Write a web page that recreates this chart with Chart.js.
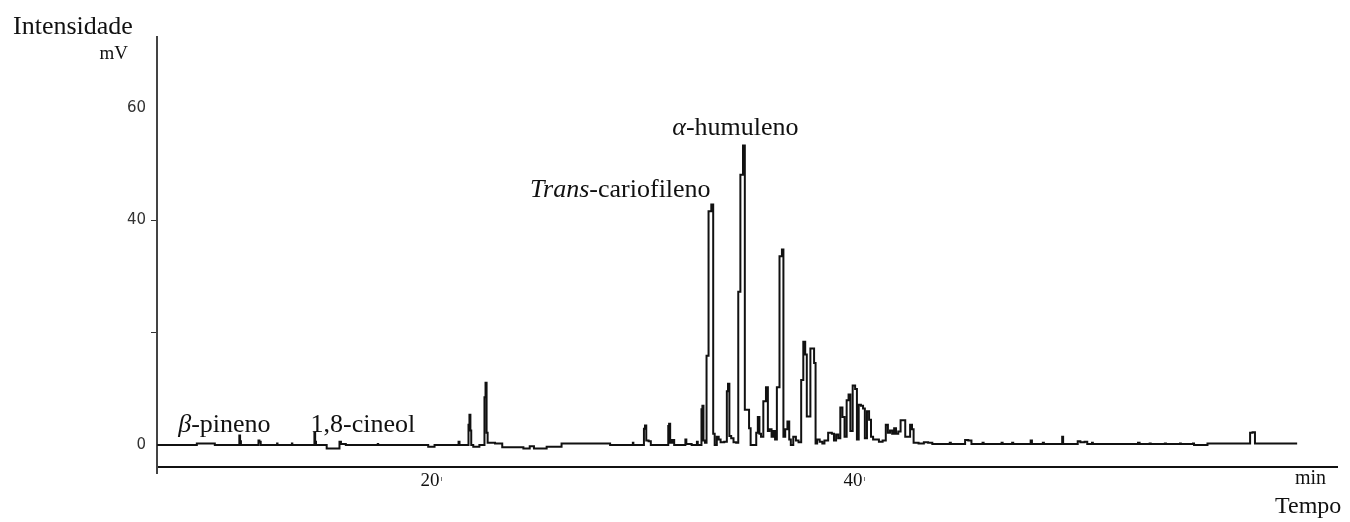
<!DOCTYPE html>
<html>
<head>
<meta charset="utf-8">
<title>Cromatograma</title>
<script src="https://cdn.jsdelivr.net/npm/chart.js@4.4.0/dist/chart.umd.min.js"></script>
<style>
  html, body { margin: 0; padding: 0; background: #fff; }
  #chart-wrap { width: 1350px; height: 522px; position: relative; }
</style>
</head>
<body>
<div id="chart-wrap">
  <canvas id="chromatogram" width="1350" height="522"></canvas>
</div>
<script>
  // Retention time (min) and detector signal (mV) in three stretches
  const timeEarly = [
    7.1, 8.95, 9.0, 9.8, 9.85, 10.97, 11.0, 11.04, 11.08, 11.88,
    11.9, 11.97, 12.02, 12.76, 12.78, 12.8, 13.46, 13.48, 13.5, 14.52,
    14.55, 14.59, 14.63, 15.1, 15.13, 15.7, 15.74, 15.84, 16.0, 16.04,
    17.52, 17.54, 17.56, 19.9, 19.93, 20.2, 20.23, 21.33, 21.37, 21.42,
    21.8, 21.84, 21.89, 21.93, 21.97, 22.12, 22.55, 22.6, 22.65, 22.7,
    22.75, 23.4, 23.43, 24.4, 24.43, 24.7, 24.73, 24.9, 24.93, 25.5,
    25.53, 26.2, 26.24, 28.5, 28.53, 29.58, 29.6, 29.63
  ];
  const signalEarly = [
    0, 0, 0.3, 0.3, 0, 0, 1.7, 0.7, 0, 0,
    0.8, 0.6, 0, 0, 0.3, 0, 0, 0.3, 0, 0,
    2.2, 0.6, 0, 0, -0.6, -0.6, 0.6, 0.2, 0.2, 0,
    0, 0.2, 0, 0, -0.3, -0.3, 0, 0, 0.6, 0,
    0, 3.6, 5.4, 2.6, 0, -0.3, 0, 8.5, 11.1, 2.2,
    0.4, 0.3, -0.4, -0.4, -0.6, -0.6, -0.2, -0.2, -0.6, -0.6,
    -0.3, -0.3, 0.3, 0.3, 0, 0, 0.4, 0
  ];

  const timeSesqui = [
    30.1, 30.13, 30.2, 30.25, 30.42, 30.46, 31.25, 31.28, 31.33, 31.38,
    31.52, 31.57, 32.05, 32.1, 32.14, 32.6, 32.64, 32.68, 32.82, 32.85,
    32.91, 32.95, 33.05, 33.1, 33.24, 33.36, 33.42, 33.5, 33.62, 33.68,
    33.8, 34.02, 34.05, 34.13, 34.18, 34.3, 34.4, 34.55, 34.6, 34.75,
    34.85, 34.92, 35.05, 35.12, 35.2, 35.4, 35.45, 35.55, 35.6, 35.7,
    35.82, 35.95, 36.0, 36.1, 36.2, 36.28, 36.35, 36.45, 36.6, 36.68,
    36.74, 36.85, 36.95, 37.02, 37.1, 37.25, 37.35, 37.5, 37.6, 37.7,
    37.78, 37.85, 37.95, 38.02, 38.12, 38.2, 38.26, 38.35, 38.5, 38.6,
    38.7, 38.95, 39.05, 39.15, 39.25, 39.35, 39.45, 39.55, 39.65, 39.75,
    39.83, 39.92, 40.05, 40.15, 40.22, 40.32, 40.43, 40.52, 40.6, 40.72,
    40.8, 40.9, 41.0, 41.15, 41.3, 41.5, 41.6, 41.7, 41.8, 41.9,
    41.99, 42.08, 42.2, 42.3, 42.42, 42.52, 42.65, 42.75, 42.83, 42.9
  ];
  const signalSesqui = [
    0, 2.9, 3.5, 0.8, 0.7, 0, 0, 3.4, 3.8, 0.4,
    0.9, 0, 0, 1.0, 0.2, 0, 0.6, 0, 0, 6.4,
    7.0, 0.8, 0.4, 15.9, 41.6, 42.8, 2.0, 0, 1.5, 1.0,
    0.5, 0.6, 9.6, 10.9, 1.6, 1.2, 0.5, 0.4, 27.3, 48.1,
    53.3, 6.3, 6.3, 3.0, 0, 0, 2.2, 5.0, 2.0, 1.5,
    7.8, 10.3, 2.5, 2.8, 1.5, 2.5, 1.0, 10.3, 33.6, 34.8,
    1.5, 2.8, 4.2, 1.0, 0, 1.5, 0.8, 0.5, 11.6, 18.4,
    16.1, 5.1, 5.1, 17.2, 17.2, 14.6, 0.3, 1.0, 0.6, 0.3,
    0.8, 2.2, 2.0, 0.8, 1.9, 1.2, 6.7, 5.0, 1.5, 8.0,
    9.0, 2.5, 10.6, 10.0, 1.0, 7.2, 7.0, 6.5, 1.2, 6.0,
    4.5, 1.5, 1.0, 1.0, 0.6, 0.8, 3.6, 2.2, 2.6, 2.0,
    3.0, 2.0, 2.4, 4.4, 4.4, 1.5, 1.5, 3.6, 2.8, 0.4
  ];

  const timeLate = [
    43.3, 43.4, 43.7, 43.8, 44.55, 44.6, 44.65, 45.25, 45.35, 45.55,
    45.65, 46.1, 46.15, 46.2, 47.0, 47.05, 47.1, 47.5, 47.55, 47.6,
    48.38, 48.42, 48.5, 48.95, 49.0, 49.05, 49.87, 49.91, 49.96, 50.6,
    50.65, 50.85, 51.05, 51.1, 51.28, 51.32, 51.36, 53.45, 53.5, 53.6,
    54.0, 54.05, 54.1, 54.72, 54.77, 54.82, 55.44, 55.48, 55.52, 56.05,
    56.1, 56.15, 56.74, 56.78, 58.75, 58.8, 58.98, 59.03, 61.0
  ];
  const signalLate = [
    0.3, 0.5, 0.4, 0.2, 0.2, 0.4, 0.2, 0.2, 0.9, 0.8,
    0.2, 0.2, 0.4, 0.2, 0.2, 0.4, 0.2, 0.2, 0.4, 0.2,
    0.2, 0.8, 0.2, 0.2, 0.4, 0.2, 0.2, 1.5, 0.2, 0.2,
    0.7, 0.5, 0.6, 0.2, 0.2, 0.4, 0.2, 0.2, 0.4, 0.2,
    0.2, 0.3, 0.2, 0.2, 0.3, 0.2, 0.2, 0.3, 0.2, 0.2,
    0.3, 0, 0, 0.3, 0.3, 2.2, 2.3, 0.3, 0.3
  ];

  const xTicks = [20, 40];
  const yTicks = [0, 20, 40, 60];
  const yTickLabels = ['0', '', '40', '60'];

  // peak names, drawn over the trace; [text, italic] pieces
  const peakLabels = [
    [['β', true], ['-pineno', false]],
    [['1,8-cineol', false]],
    [['Trans', true], ['-cariofileno', false]],
    [['α', true], ['-humuleno', false]]
  ];

  const times = timeEarly.concat(timeSesqui, timeLate);
  const signal = signalEarly.concat(signalSesqui, signalLate);
  const points = times.map((t, i) => ({ x: t, y: signal[i] }));

  const SERIF = '"Liberation Serif", "Times New Roman", serif';

  function drawRich(ctx, parts, cx, baseY, size) {
    let total = 0;
    parts.forEach(([txt, it]) => {
      ctx.font = (it ? 'italic ' : '') + size + 'px ' + SERIF;
      total += ctx.measureText(txt).width;
    });
    let x = cx - total / 2;
    parts.forEach(([txt, it]) => {
      ctx.font = (it ? 'italic ' : '') + size + 'px ' + SERIF;
      ctx.fillText(txt, x, baseY);
      x += ctx.measureText(txt).width;
    });
  }

  const textPlugin = {
    id: 'chromaText',
    afterDraw(chart) {
      const ctx = chart.ctx;
      const xs = chart.scales.x, ys = chart.scales.y;
      const area = chart.chartArea;
      ctx.save();
      ctx.fillStyle = '#111';
      ctx.textAlign = 'left';
      ctx.textBaseline = 'alphabetic';

      // y axis runs a little below the time axis
      ctx.strokeStyle = '#444';
      ctx.lineWidth = 2;
      ctx.beginPath();
      ctx.moveTo(xs.left, area.bottom);
      ctx.lineTo(xs.left, area.bottom + 7);
      ctx.stroke();

      // the small marks next to the time labels
      ctx.strokeStyle = '#777';
      ctx.lineWidth = 1;
      xTicks.forEach(v => {
        const px = Math.round(xs.getPixelForValue(v)) + 11.5;
        ctx.beginPath();
        ctx.moveTo(px, area.bottom + 10);
        ctx.lineTo(px, area.bottom + 14);
        ctx.stroke();
      });

      // axis titles
      ctx.font = '26px ' + SERIF;
      ctx.fillText('Intensidade', 13, 34);
      ctx.font = '19px ' + SERIF;
      ctx.textAlign = 'right';
      ctx.fillText('mV', 128, 59);
      ctx.textAlign = 'left';
      ctx.font = '20px ' + SERIF;
      ctx.fillText('min', 1295, 484);
      ctx.font = '24px ' + SERIF;
      ctx.fillText('Tempo', 1275, 513);

      // peak names
      const anchors = [[10.28, 2.4], [16.83, 2.4], [29.0, 44.2], [34.44, 55.2]];
      peakLabels.forEach((parts, i) => {
        const [t, v] = anchors[i];
        drawRich(ctx, parts, xs.getPixelForValue(t), ys.getPixelForValue(v), 26);
      });
      ctx.restore();
    }
  };

  new Chart(document.getElementById('chromatogram'), {
    type: 'line',
    data: {
      datasets: [{
        data: points,
        borderColor: '#111',
        borderWidth: 2,
        pointRadius: 0,
        stepped: 'middle',
        fill: false
      }]
    },
    options: {
      responsive: false,
      animation: false,
      layout: { padding: { top: 36.6, right: 13, bottom: 0, left: 0 } },
      plugins: {
        legend: { display: false },
        tooltip: { enabled: false }
      },
      scales: {
        x: {
          type: 'linear',
          min: 7.092,
          max: 62.884,
          afterBuildTicks: s => { s.ticks = xTicks.map(v => ({ value: v })); },
          afterFit: s => { s.height = 55; },
          grid: { display: false, drawTicks: false },
          border: { display: true, color: '#111', width: 2 },
          ticks: {
            font: { family: SERIF, size: 19 },
            color: '#111',
            padding: 3,
            maxRotation: 0,
            autoSkip: false
          }
        },
        y: {
          min: -3.9,
          max: 72.7,
          afterBuildTicks: s => { s.ticks = yTicks.map(v => ({ value: v })); },
          afterFit: s => { s.width = 157; },
          grid: {
            drawOnChartArea: false,
            drawTicks: true,
            tickLength: 6,
            color: 'transparent',
            tickColor: c => (c.tick && (c.tick.value === 20 || c.tick.value === 40)) ? '#333' : 'transparent'
          },
          border: { display: true, color: '#444', width: 2 },
          ticks: {
            font: { family: '"DejaVu Sans", sans-serif', size: 15 },
            color: '#333',
            padding: 5,
            autoSkip: false,
            callback: (v, i) => yTickLabels[yTicks.indexOf(v)] ?? ''
          }
        }
      }
    },
    plugins: [textPlugin]
  });
</script>
</body>
</html>
